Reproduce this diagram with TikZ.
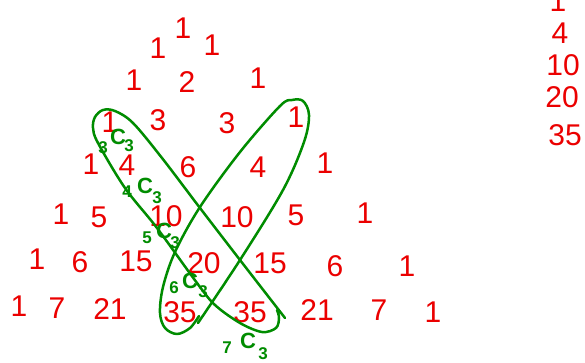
\documentclass[tikz,border=0pt]{standalone}
\usepackage{fontspec}
\setmainfont{Liberation Sans}
\definecolor{pred}{RGB}{235,0,0}
\definecolor{pgreen}{RGB}{0,140,0}
\begin{document}
\begin{tikzpicture}[x=1pt,y=-1pt,
  num/.style={text=pred,font=\fontsize{30}{30}\selectfont,inner sep=0pt},
  loopline/.style={draw=pgreen,line width=2.5pt,line cap=round,line join=round},
  gdig/.style={text=pgreen,font=\bfseries\fontsize{17}{17}\selectfont,inner sep=0pt},
  gbig/.style={text=pgreen,font=\bfseries\fontsize{22}{22}\selectfont,inner sep=0pt}]
\clip (0,0) rectangle (585,363);
\fill[white] (0,0) rectangle (585,363);
% Pascal's triangle
\node[num] (r0a) at (183,28) {1};
\node[num] (r1a) at (158,48) {1};
\node[num] (r1b) at (212,45) {1};
\node[num] (r2a) at (134,80) {1};
\node[num] (r2b) at (187,82) {2};
\node[num] (r2c) at (258,78) {1};
\node[num] (r3a) at (110,122) {1};
\node[num] (r3b) at (158,120) {3};
\node[num] (r3c) at (227,123) {3};
\node[num] (r3d) at (296,117) {1};
\node[num] (r4a) at (91,164) {1};
\node[num] (r4b) at (127,165) {4};
\node[num] (r4c) at (188,167) {6};
\node[num] (r4d) at (258,167) {4};
\node[num] (r4e) at (325,163) {1};
\node[num] (r5a) at (61,214) {1};
\node[num] (r5b) at (99,217) {5};
\node[num] (r5c) at (166,216) {10};
\node[num] (r5d) at (237,217) {10};
\node[num] (r5e) at (296,215) {5};
\node[num] (r5f) at (365,213) {1};
\node[num] (r6a) at (37,259) {1};
\node[num] (r6b) at (80,262) {6};
\node[num] (r6c) at (136,261) {15};
\node[num] (r6d) at (204,263) {20};
\node[num] (r6e) at (270,263) {15};
\node[num] (r6f) at (335,266) {6};
\node[num] (r6g) at (407,266) {1};
\node[num] (r7a) at (19,306) {1};
\node[num] (r7b) at (57,308) {7};
\node[num] (r7c) at (110,309) {21};
\node[num] (r7d) at (180,312) {35};
\node[num] (r7e) at (250,312) {35};
\node[num] (r7f) at (317,310) {21};
\node[num] (r7g) at (379,310) {7};
\node[num] (r7h) at (433,312) {1};
% right column
\node[num] (c0) at (558,1) {1};
\node[num] (c1) at (560,33) {4};
\node[num] (c2) at (563,65) {10};
\node[num] (c3) at (562,97) {20};
\node[num] (c4) at (565,135) {35};
% left loop
\draw[loopline] plot[smooth,tension=0.55] coordinates {(285,318) (240,260) (200,208) (162,158) (133,123) (115,111) (103,110) (95,117) (93,128) (98,143) (125,188) (157,228) (197,283) (215,305) (240,323) (262,332) (276,328) (279,318) (277,310)};
% right loop
\draw[loopline] plot[smooth,tension=0.55] coordinates {(198,323) (240,260) (283,190) (304,142) (309,115) (303,101) (292,100) (280,106) (240,152) (200,207) (175,252) (163,287) (160,313) (165,328) (177,334) (190,328) (199,316)};
% nCr annotations
\node[gdig] (a3p) at (103,148) {3};
\node[gbig] (a3c) at (118,137) {C};
\node[gdig] (a3s) at (129,146) {3};
\node[gdig] (a4p) at (127,192) {4};
\node[gbig] (a4c) at (145,186) {C};
\node[gdig] (a4s) at (157,198) {3};
\node[gdig] (a5p) at (147,238) {5};
\node[gbig] (a5c) at (164,231) {C};
\node[gdig] (a5s) at (175,243) {3};
\node[gdig] (a6p) at (174,288) {6};
\node[gbig] (a6c) at (190,281) {C};
\node[gdig] (a6s) at (203,292) {3};
\node[gdig] (a7p) at (227,348) {7};
\node[gbig] (a7c) at (248,341) {C};
\node[gdig] (a7s) at (263,354) {3};
\end{tikzpicture}
\end{document}
